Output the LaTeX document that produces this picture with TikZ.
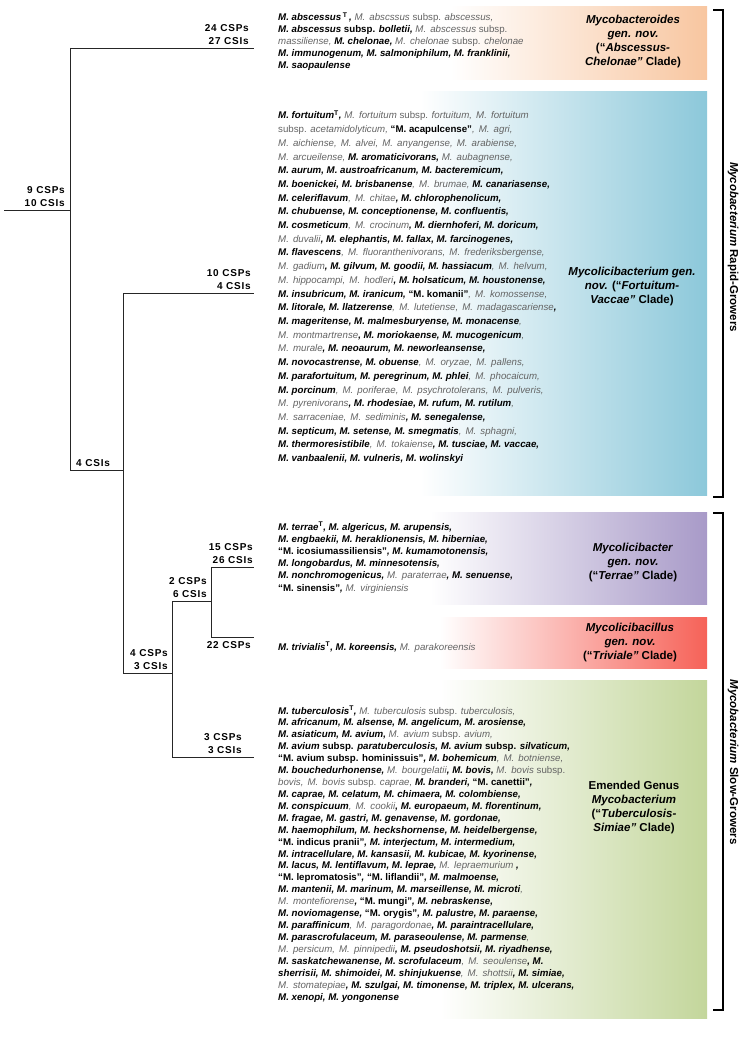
\documentclass[tikz,border=0pt]{standalone}
\usepackage{fontspec}
\setmainfont{Liberation Sans}
\newfontfamily\treefont{Liberation Sans}[LetterSpace=8]
\definecolor{gtxt}{RGB}{100,100,100}
\definecolor{cpeach}{RGB}{248,198,160}
\definecolor{cblue}{RGB}{140,200,218}
\definecolor{cpurple}{RGB}{168,154,200}
\definecolor{cred}{RGB}{246,98,88}
\definecolor{cgreen}{RGB}{195,214,155}
\newcommand\Bi[1]{\textbf{\textit{#1}}}
\newcommand\Gi[1]{{\color{gtxt}\spaceskip=0.42em plus 0.1em\textit{#1}}}
\newcommand\Bs{\textbf{subsp.}}
\newcommand\Gs{{\color{gtxt}subsp.}}
\newcommand\Qb[1]{\textbf{#1}}
\newcommand\Ts{\textsuperscript{\textbf{T}}}
\newcommand\cladebg[4]{%
  \fill[white] (265,#1) rectangle (707,#2);
  \shade[left color=white, right color=#3] (#4,#1) rectangle (707,#2);}
\tikzset{
  tl/.style={line width=0.9pt, draw=black!85},
  lbl/.style={font=\treefont\bfseries\fontsize{10}{13}\selectfont, align=right, inner sep=0pt},
  bt/.style={anchor=base west, inner sep=0pt, font=\fontsize{9.7}{11}\selectfont},
  clbl/.style={font=\bfseries\fontsize{11.5}{14}\selectfont, align=center, inner sep=0pt},
  side/.style={font=\bfseries\fontsize{11.5}{14}\selectfont, rotate=-90, inner sep=0pt},
  brk/.style={line width=1.4pt, draw=black},
}
\begin{document}
\begin{tikzpicture}[x=1pt,y=-1pt]
\useasboundingbox (0,0) rectangle (743,1040);
\fill[white] (0,0) rectangle (743,1040);
% clade backgrounds
\cladebg{7}{80}{cpeach}{450}
\cladebg{92}{495}{cblue}{420}
\cladebg{512}{604}{cpurple}{430}
\cladebg{617}{668}{cred}{440}
\cladebg{680}{1018}{cgreen}{440}
% tree
\coordinate (r0) at (4,210);   \coordinate (r) at (70,210);
\coordinate (rt) at (70,48);   \coordinate (rb) at (70,470);
\coordinate (absE) at (254,48);
\coordinate (n1) at (123,470); \coordinate (n1t) at (123,293); \coordinate (n1b) at (123,673);
\coordinate (forE) at (254,293);
\coordinate (n2) at (172,673); \coordinate (n2t) at (172,601); \coordinate (n2b) at (172,757);
\coordinate (tbE) at (254,757);
\coordinate (n3) at (211,601); \coordinate (n3t) at (211,567); \coordinate (n3b) at (211,637);
\coordinate (terE) at (254,567); \coordinate (trvE) at (254,637);
\draw[tl] (r0) -- (r);
\draw[tl] (rt) -- (rb);
\draw[tl] (rt) -- (absE);
\draw[tl] (rb) -- (n1);
\draw[tl] (n1t) -- (n1b);
\draw[tl] (n1t) -- (forE);
\draw[tl] (n1b) -- (n2);
\draw[tl] (n2t) -- (n2b);
\draw[tl] (n2t) -- (n3);
\draw[tl] (n3t) -- (n3b);
\draw[tl] (n3t) -- (terE);
\draw[tl] (n3b) -- (trvE);
\draw[tl] (n2b) -- (tbE);
% tree labels
\node[lbl, anchor=south east] (lr) at (65,207) {9 CSPs\\10 CSIs};
\node[lbl, anchor=south east] (la) at (249,45) {24 CSPs\\27 CSIs};
\node[lbl, anchor=south east] (lf) at (251,290) {10 CSPs\\4 CSIs};
\node[lbl, anchor=south west] (l4) at (76,467) {4 CSIs};
\node[lbl, anchor=south east] (lt) at (253,564) {15 CSPs\\26 CSIs};
\node[lbl, anchor=south east] (l26) at (207,598) {2 CSPs\\6 CSIs};
\node[lbl, anchor=north east] (ltr) at (251,641) {22 CSPs};
\node[lbl, anchor=south east] (l43) at (168,670) {4 CSPs\\3 CSIs};
\node[lbl, anchor=south east] (l33) at (242,754) {3 CSPs\\3 CSIs};
% Abscessus text
\foreach \linetext [count=\i] in {%
 {\Bi{M. abscessus}\,\Ts\,\Bi{,} \Gi{M. abscssus} \Gs{} \Gi{abscessus,}},
 {\Bi{M. abscessus} \Bs{} \Bi{bolletii,} \Gi{M. abscessus} \Gs},
 {\Gi{massiliense,} \Bi{M. chelonae,} \Gi{M. chelonae} \Gs{} \Gi{chelonae}},
 {\Bi{M. immunogenum, M. salmoniphilum, M. franklinii,}},
 {\Bi{M. saopaulense}}}
 \node[bt] (a\i) at (278,{21+12*(\i-1)}) {\linetext};
% Fortuitum text
\foreach \linetext [count=\i] in {%
 {\Bi{M. fortuitum}\Ts\Bi{,} \Gi{M. fortuitum} \Gs{} \Gi{fortuitum, M. fortuitum}},
 {\Gs{} \Gi{acetamidolyticum,} \Qb{“M. acapulcense”}\Gi{, M. agri,}},
 {\Gi{M. aichiense, M. alvei, M. anyangense, M. arabiense,}},
 {\Gi{M. arcueilense,} \Bi{M. aromaticivorans,} \Gi{M. aubagnense,}},
 {\Bi{M. aurum, M. austroafricanum, M. bacteremicum,}},
 {\Bi{M. boenickei, M. brisbanense}\Gi{, M. brumae,} \Bi{M. canariasense,}},
 {\Bi{M. celeriflavum}\Gi{, M. chitae}\Bi{, M. chlorophenolicum,}},
 {\Bi{M. chubuense, M. conceptionense, M. confluentis,}},
 {\Bi{M. cosmeticum}\Gi{, M. crocinum}\Bi{, M. diernhoferi, M. doricum,}},
 {\Gi{M. duvalii}\Bi{, M. elephantis, M. fallax, M. farcinogenes,}},
 {\Bi{M. flavescens}\Gi{, M. fluoranthenivorans, M. frederiksbergense,}},
 {\Gi{M. gadium}\Bi{, M. gilvum, M. goodii, M. hassiacum}\Gi{, M. helvum,}},
 {\Gi{M. hippocampi, M. hodleri}\Bi{, M. holsaticum, M. houstonense,}},
 {\Bi{M. insubricum, M. iranicum,} \Qb{“M. komanii”}\Gi{, M. komossense,}},
 {\Bi{M. litorale, M. llatzerense}\Gi{, M. lutetiense, M. madagascariense}\Bi{,}},
 {\Bi{M. mageritense, M. malmesburyense, M. monacense}\Gi{,}},
 {\Gi{M. montmartrense}\Bi{, M. moriokaense, M. mucogenicum}\Gi{,}},
 {\Gi{M. murale}\Bi{, M. neoaurum, M. neworleansense,}},
 {\Bi{M. novocastrense, M. obuense}\Gi{, M. oryzae, M. pallens,}},
 {\Bi{M. parafortuitum, M. peregrinum, M. phlei}\Gi{, M. phocaicum,}},
 {\Bi{M. porcinum}\Gi{, M. poriferae, M. psychrotolerans, M. pulveris,}},
 {\Gi{M. pyrenivorans}\Bi{, M. rhodesiae, M. rufum, M. rutilum}\Gi{,}},
 {\Gi{M. sarraceniae, M. sediminis}\Bi{, M. senegalense,}},
 {\Bi{M. septicum, M. setense, M. smegmatis}\Gi{, M. sphagni,}},
 {\Bi{M. thermoresistibile}\Gi{, M. tokaiense}\Bi{, M. tusciae, M. vaccae,}},
 {\Bi{M. vanbaalenii, M. vulneris, M. wolinskyi}}}
 \node[bt] (f\i) at (278,{119+13.7*(\i-1)}) {\linetext};
% Terrae text
\foreach \linetext [count=\i] in {%
 {\Bi{M. terrae}\Ts\Bi{, M. algericus, M. arupensis,}},
 {\Bi{M. engbaekii, M. heraklionensis, M. hiberniae,}},
 {\Qb{“M. icosiumassiliensis”}\Bi{, M. kumamotonensis,}},
 {\Bi{M. longobardus, M. minnesotensis,}},
 {\Bi{M. nonchromogenicus,} \Gi{M. paraterrae}\Bi{, M. senuense,}},
 {\Qb{“M. sinensis”}\Bi{,} \Gi{M. virginiensis}}}
 \node[bt] (t\i) at (278,{530+12.2*(\i-1)}) {\linetext};
% Triviale text
\node[bt] (v1) at (278,650) {\Bi{M. trivialis}\Ts\Bi{, M. koreensis,} \Gi{M. parakoreensis}};
% Tuberculosis text
\foreach \linetext [count=\i] in {%
 {\Bi{M. tuberculosis}\Ts\Bi{,} \Gi{M. tuberculosis} \Gs{} \Gi{tuberculosis,}},
 {\Bi{M. africanum, M. alsense, M. angelicum, M. arosiense,}},
 {\Bi{M. asiaticum, M. avium,} \Gi{M. avium} \Gs{} \Gi{avium,}},
 {\Bi{M. avium} \Bs{} \Bi{paratuberculosis, M. avium} \Bs{} \Bi{silvaticum,}},
 {\Qb{“M. avium subsp. hominissuis”}\Bi{, M. bohemicum}\Gi{, M. botniense,}},
 {\Bi{M. bouchedurhonense,} \Gi{M. bourgelatii}\Bi{, M. bovis,} \Gi{M. bovis} \Gs},
 {\Gi{bovis, M. bovis} \Gs{} \Gi{caprae,} \Bi{M. branderi,} \Qb{“M. canettii”}\Bi{,}},
 {\Bi{M. caprae, M. celatum, M. chimaera, M. colombiense,}},
 {\Bi{M. conspicuum}\Gi{, M. cookii}\Bi{, M. europaeum, M. florentinum,}},
 {\Bi{M. fragae, M. gastri, M. genavense, M. gordonae,}},
 {\Bi{M. haemophilum, M. heckshornense, M. heidelbergense,}},
 {\Qb{“M. indicus pranii”}\Bi{, M. interjectum, M. intermedium,}},
 {\Bi{M. intracellulare, M. kansasii, M. kubicae, M. kyorinense,}},
 {\Bi{M. lacus, M. lentiflavum, M. leprae,} \Gi{M. lepraemurium}\Bi{ ,}},
 {\Qb{“M. lepromatosis”}\Bi{,} \Qb{“M. liflandii”}\Bi{, M. malmoense,}},
 {\Bi{M. mantenii, M. marinum, M. marseillense, M. microti}\Gi{,}},
 {\Gi{M. montefiorense}\Bi{,} \Qb{“M. mungi”}\Bi{, M. nebraskense,}},
 {\Bi{M. noviomagense,} \Qb{“M. orygis”}\Bi{, M. palustre, M. paraense,}},
 {\Bi{M. paraffinicum}\Gi{, M. paragordonae}\Bi{, M. paraintracellulare,}},
 {\Bi{M. parascrofulaceum, M. paraseoulense, M. parmense}\Gi{,}},
 {\Gi{M. persicum, M. pinnipedii}\Bi{, M. pseudoshotsii, M. riyadhense,}},
 {\Bi{M. saskatchewanense, M. scrofulaceum}\Gi{, M. seoulense}\Bi{, M.}},
 {\Bi{sherrisii, M. shimoidei, M. shinjukuense}\Gi{, M. shottsii}\Bi{, M. simiae,}},
 {\Gi{M. stomatepiae}\Bi{, M. szulgai, M. timonense, M. triplex, M. ulcerans,}},
 {\Bi{M. xenopi, M. yongonense}}}
 \node[bt] (m\i) at (278,{714+11.92*(\i-1)}) {\linetext};
% clade labels
\node[clbl] (labA) at (633,42) {\textit{Mycobacteroides}\\\textit{gen. nov.}\\(“\textit{Abscessus-}\\\textit{Chelonae”} Clade)};
\node[clbl] (labF) at (632,287) {\textit{Mycolicibacterium gen.}\\\textit{nov.} (“\textit{Fortuitum-}\\\textit{Vaccae”} Clade)};
\node[clbl] (labT) at (633,563) {\textit{Mycolicibacter}\\\textit{gen. nov.}\\(“\textit{Terrae”} Clade)};
\node[clbl] (labV) at (630,643) {\textit{Mycolicibacillus}\\\textit{gen. nov.}\\(“\textit{Triviale”} Clade)};
\node[clbl] (labM) at (634,808) {Emended Genus\\\textit{Mycobacterium}\\(“\textit{Tuberculosis-}\\\textit{Simiae”} Clade)};
% brackets
\coordinate (b1a) at (713,10);  \coordinate (b1t) at (723,10);
\coordinate (b1b) at (723,497); \coordinate (b1c) at (713,497);
\draw[brk] (b1a) -- (b1t) -- (b1b) -- (b1c);
\coordinate (b2a) at (713,513);  \coordinate (b2t) at (723,513);
\coordinate (b2b) at (723,1010); \coordinate (b2c) at (713,1010);
\draw[brk] (b2a) -- (b2t) -- (b2b) -- (b2c);
\node[side] (rapid) at (733,247) {\textit{Mycobacterium} Rapid-Growers};
\node[side] (slow) at (733,762) {\textit{Mycobacterium} Slow-Growers};
\end{tikzpicture}
\end{document}
